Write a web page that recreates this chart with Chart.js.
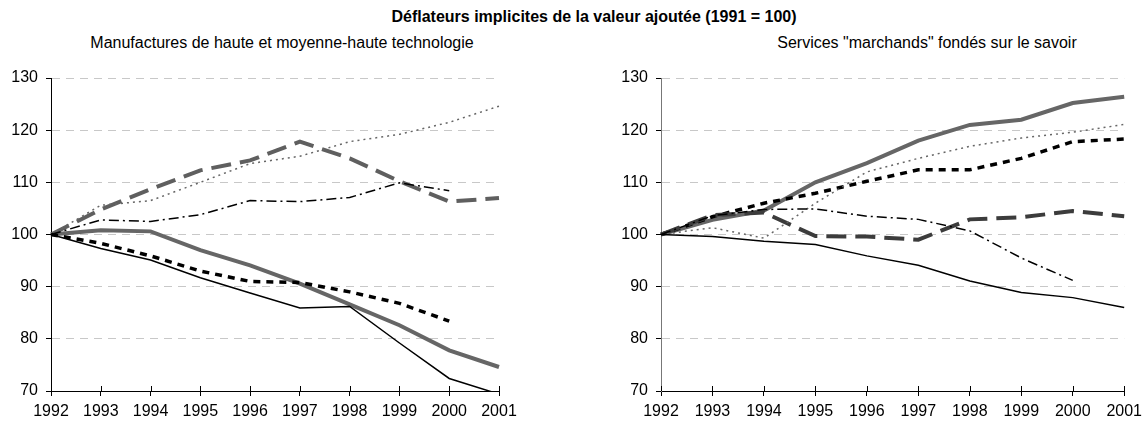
<!DOCTYPE html>
<html>
<head>
<meta charset="utf-8">
<script src="https://cdn.jsdelivr.net/npm/chart.js@4.4.1/dist/chart.umd.min.js"></script>
<style>
  html, body { margin: 0; padding: 0; background: #ffffff; }
  body { width: 1148px; height: 421px; position: relative; overflow: hidden; font-family: "Liberation Sans", Arial, sans-serif; }
  .title { position: absolute; top: 8px; left: 294px; width: 600px; text-align: center; font-weight: bold; font-size: 16px; color: #000; white-space: nowrap; }
  .sub { position: absolute; top: 34px; font-size: 16px; color: #000; text-align: center; white-space: nowrap; }
  #subL { left: 32px; width: 500px; }
  #subR { left: 727px; width: 400px; }
  .wrap { position: absolute; top: 0; width: 574px; height: 421px; }
  #wL { left: 0; }
  #wR { left: 574px; }
</style>
</head>
<body>
<div class="title">Déflateurs implicites de la valeur ajoutée (1991 = 100)</div>
<div class="sub" id="subL">Manufactures de haute et moyenne-haute technologie</div>
<div class="sub" id="subR">Services "marchands" fondés sur le savoir</div>
<div class="wrap" id="wL"><canvas id="cL" width="574" height="421"></canvas></div>
<div class="wrap" id="wR"><canvas id="cR" width="574" height="421"></canvas></div>
<script>
// ---- Data ----
const years = ['1992', '1993', '1994', '1995', '1996', '1997', '1998', '1999', '2000', '2001'];
const yTicks = [70, 80, 90, 100, 110, 120, 130];

// Manufactures de haute et moyenne-haute technologie
const mfgThinSolid  = [100, 97.3, 95.1, 91.7, 88.8, 85.9, 86.2, 79.2, 72.4, 69.4];
const mfgThickSolid = [100, 100.8, 100.6, 97.0, 94.1, 90.6, 86.6, 82.6, 77.8, 74.6];
const mfgShortDash  = [100, 98.3, 95.9, 93.0, 91.0, 90.8, 89.0, 86.8, 83.4, null];
const mfgDashDot    = [100, 102.8, 102.5, 103.8, 106.5, 106.3, 107.1, 109.9, 108.4, null];
const mfgLongDash   = [100, 104.8, 108.7, 112.3, 114.2, 117.8, 114.6, 110.2, 106.3, 107.0];
const mfgDotted     = [100, 105.6, 106.5, 110.0, 113.6, 115.0, 117.8, 119.2, 121.5, 124.6];

// Services "marchands" fondés sur le savoir
const svcThickSolid = [100, 102.8, 104.6, 110.0, 113.7, 118.0, 121.0, 122.0, 125.2, 126.4];
const svcThinSolid  = [100, 99.6, 98.7, 98.1, 95.9, 94.1, 91.1, 88.9, 87.9, 86.0];
const svcShortDash  = [100, 103.4, 106.0, 107.9, 110.2, 112.4, 112.4, 114.6, 117.8, 118.3];
const svcDashDot    = [100, 103.6, 104.8, 104.9, 103.5, 102.9, 100.7, 95.5, 91.2, null];
const svcLongDash   = [100, 103.7, 104.2, 99.7, 99.6, 99.0, 102.9, 103.3, 104.5, 103.5];
const svcDotted     = [100, 101.3, 99.3, 106.0, 112.0, 114.6, 116.9, 118.5, 119.6, 121.1];

// ---- Styles ----
const FONT = '"Liberation Sans", Arial, sans-serif';
const styleThin   = { borderColor: '#000000', borderWidth: 1.5, borderDash: [] };
const styleThick  = { borderColor: '#666666', borderWidth: 4, borderDash: [] };
const styleShort  = { borderColor: '#000000', borderWidth: 3.5, borderDash: [7, 6] };
const styleDashDot= { borderColor: '#000000', borderWidth: 1.5, borderDash: [10, 4, 2, 4] };
const styleDotted = { borderColor: '#666666', borderWidth: 1.5, borderDash: [2, 4] };

function ds(data, st, extra) {
  return Object.assign({ data: data, fill: false, tension: 0, pointRadius: 0, pointHoverRadius: 0,
    borderCapStyle: 'butt', borderJoinStyle: 'miter', spanGaps: false }, st, extra || {});
}

const xTickCross = {
  id: 'xTickCross',
  afterDraw(chart) {
    const xs = chart.scales.x, ctx = chart.ctx;
    const yAx = chart.chartArea.bottom;
    ctx.save();
    ctx.strokeStyle = '#000';
    ctx.lineWidth = 1;
    xs.ticks.forEach((t, i) => {
      const px = Math.round(xs.getPixelForTick(i)) + 0.5;
      ctx.beginPath(); ctx.moveTo(px, yAx - 5); ctx.lineTo(px, yAx); ctx.stroke();
    });
    ctx.restore();
  }
};

function makeChart(id, datasets, pad, yBorderColor) {
  return new Chart(document.getElementById(id), {
    type: 'line',
    data: { labels: years, datasets: datasets },
    plugins: [xTickCross],
    options: {
      responsive: false,
      animation: false,
      events: [],
      layout: { padding: pad },
      plugins: { legend: { display: false }, title: { display: false }, tooltip: { enabled: false } },
      scales: {
        x: {
          type: 'category',
          offset: false,
          afterFit(s) { s.height = 30; },
          grid: { display: true, drawOnChartArea: false, drawTicks: true, tickLength: 5, color: '#000', lineWidth: 1 },
          border: { display: true, color: '#000', width: 1 },
          ticks: { color: '#000', font: { family: FONT, size: 16 }, padding: 6, maxRotation: 0, autoSkip: false }
        },
        y: {
          min: 70, max: 130,
          afterFit(s) { s.width = 40; },
          afterBuildTicks(s) { s.ticks = yTicks.map(v => ({ value: v })); },
          grid: {
            display: true, drawOnChartArea: true, drawTicks: true, tickLength: 5,
            color: (c) => (c.tick && c.tick.value === 70 ? 'rgba(0,0,0,0)' : '#c8c8c8'),
            tickColor: '#000', lineWidth: 1
          },
          border: { display: true, color: yBorderColor, width: 1, dash: [8, 6] },
          ticks: { color: '#000', font: { family: FONT, size: 16 }, padding: 8 }
        }
      }
    }
  });
}

makeChart('cL', [
  ds(mfgThinSolid, styleThin),
  ds(mfgShortDash, styleShort),
  ds(mfgDashDot, styleDashDot),
  ds(mfgDotted, styleDotted),
  ds(mfgLongDash, { borderColor: '#5f5f5f', borderWidth: 4, borderDash: [20, 9] }),
  ds(mfgThickSolid, styleThick)
], { left: 11, top: 78, right: 75, bottom: 0 }, '#000');

makeChart('cR', [
  ds(svcThinSolid, styleThin),
  ds(svcDashDot, styleDashDot),
  ds(svcDotted, styleDotted),
  ds(svcLongDash, { borderColor: '#3c3c3c', borderWidth: 4, borderDash: [20, 9] }),
  ds(svcShortDash, styleShort),
  ds(svcThickSolid, styleThick)
], { left: 47, top: 78, right: 17, bottom: 0 }, '#777');
</script>
</body>
</html>
